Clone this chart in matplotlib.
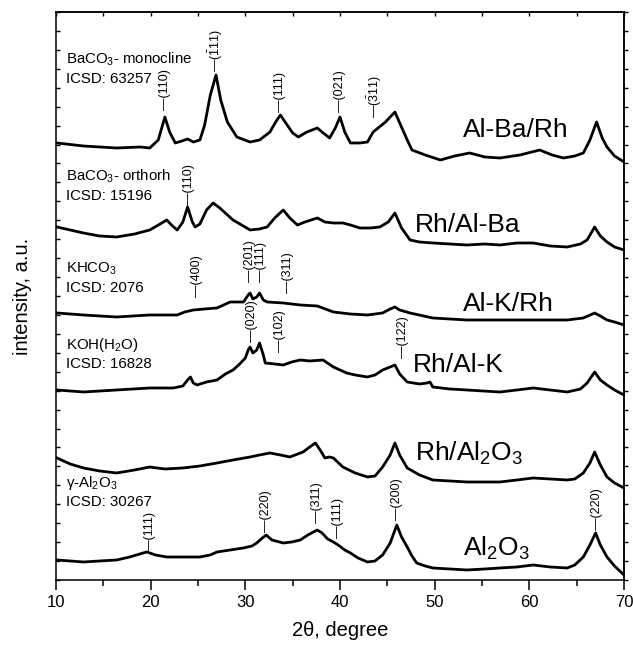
import matplotlib
matplotlib.use('Agg')
import matplotlib.pyplot as plt
from matplotlib.ticker import MultipleLocator

plt.rcParams['font.family'] = ['Liberation Sans', 'DejaVu Sans']
plt.rcParams['mathtext.fontset'] = 'custom'
plt.rcParams['mathtext.rm'] = 'Liberation Sans'
plt.rcParams['mathtext.it'] = 'Liberation Sans:italic'
plt.rcParams['mathtext.bf'] = 'Liberation Sans:bold'
plt.rcParams['mathtext.default'] = 'regular'

# ---------------- data (2theta, intensity a.u. incl. stacking offset) ----------------
albarh_2t = [10.1, 12.9, 16.4, 18.9, 19.9, 20.8, 21.5, 22.0, 22.6, 23.3, 23.9, 24.5, 25.2, 25.7, 26.3,
             26.9, 27.4, 28.1, 29.1, 30.5, 31.5, 32.6, 33.2, 33.7, 34.2, 35.0, 35.6, 36.5, 37.6, 38.1,
             38.9, 39.5, 40.0, 40.5, 41.1, 42.1, 42.9, 43.5, 44.8, 45.8, 46.4, 47.1, 47.6, 49.0, 50.6,
             52.1, 53.7, 55.3, 56.9, 59.0, 61.1, 62.4, 63.6, 64.8, 65.7, 66.4, 67.1, 67.7, 68.2, 69.0, 70.0]
albarh_int = [437, 434, 432, 433, 432, 440, 463, 448, 437, 439, 441, 438, 440, 455, 485,
              505, 480, 458, 443, 438, 440, 448, 458, 465, 458, 447, 443, 448, 452, 448,
              442, 452, 463, 448, 437, 437, 438, 448, 458, 468, 455, 440, 430, 425, 420,
              424, 427, 423, 422, 425, 430, 425, 422, 424, 427, 440, 458, 442, 433, 424, 418]

rhalba_2t = [10.1, 12.9, 14.6, 16.4, 18.3, 19.9, 21.0, 21.7, 22.3, 22.8, 23.4, 23.9, 24.4, 24.7, 25.2,
             25.9, 26.6, 27.3, 28.7, 30.5, 31.5, 32.3, 33.1, 34.0, 34.7, 35.5, 36.3, 37.6, 38.4, 39.3,
             40.3, 41.1, 42.1, 43.2, 44.2, 45.1, 45.8, 46.5, 47.4, 48.4, 49.8, 51.6, 53.4, 55.3, 56.9,
             58.7, 60.4, 62.2, 64.0, 65.4, 66.1, 66.9, 67.5, 68.2, 69.0, 70.0]
rhalba_int = [353, 347, 344, 343, 346, 350, 356, 360, 354, 350, 358, 373, 358, 353, 356,
              370, 377, 372, 360, 350, 351, 353, 362, 370, 362, 355, 358, 362, 358, 357,
              357, 355, 352, 352, 353, 358, 367, 352, 340, 338, 337, 336, 335, 336, 335,
              337, 337, 334, 333, 336, 340, 353, 344, 338, 333, 330]

alkrh_2t = [10.1, 12.9, 16.4, 19.9, 22.8, 23.6, 24.5, 25.7, 27.0, 28.4, 29.8, 30.3, 30.5, 30.8, 31.2,
            31.5, 31.9, 32.3, 34.0, 35.8, 37.6, 39.3, 41.1, 42.9, 44.5, 45.3, 45.8, 46.3, 47.4, 49.8,
            53.4, 56.9, 60.4, 64.0, 65.7, 66.9, 67.5, 68.2, 69.0, 70.0]
alkrh_int = [267, 265, 263, 265, 265, 268, 270, 271, 272, 278, 278, 285, 287, 281, 283,
             287, 280, 278, 277, 275, 274, 268, 266, 265, 267, 271, 273, 270, 267, 262,
             260, 260, 260, 260, 262, 267, 264, 260, 258, 255]

rhalk_2t = [10.1, 12.9, 16.4, 19.9, 22.4, 23.4, 23.9, 24.2, 24.5, 24.9, 25.9, 27.0, 27.9, 28.7, 29.4,
            30.0, 30.3, 30.5, 30.8, 31.2, 31.5, 31.9, 32.1, 33.1, 34.0, 34.9, 35.8, 36.8, 38.2, 39.3,
            40.7, 41.6, 42.9, 43.7, 44.5, 45.3, 45.8, 46.3, 47.1, 48.4, 49.2, 49.5, 49.8, 51.6, 53.4,
            55.1, 56.9, 58.7, 60.4, 62.2, 64.0, 65.4, 66.1, 66.9, 67.5, 68.2, 69.0, 70.0]
rhalk_int = [190, 188, 190, 192, 192, 194, 200, 203, 197, 195, 198, 200, 206, 210, 216,
             222, 230, 233, 227, 230, 237, 225, 217, 216, 215, 218, 220, 219, 220, 213,
             207, 205, 203, 205, 210, 213, 215, 206, 198, 196, 197, 198, 193, 191, 190,
             189, 188, 190, 192, 190, 188, 191, 197, 208, 200, 195, 190, 185]

rhal2o3_2t = [10.1, 11.5, 12.9, 14.6, 16.4, 18.3, 19.9, 21.5, 23.4, 25.2, 27.0, 28.7, 30.5, 31.5, 32.6,
              33.7, 34.7, 36.1, 36.8, 37.4, 37.9, 38.4, 38.9, 39.3, 40.3, 41.6, 42.9, 43.7, 44.5, 45.3,
              45.8, 46.3, 47.1, 48.4, 49.8, 51.6, 53.4, 55.3, 56.9, 58.7, 60.4, 62.2, 64.0, 64.8, 65.7,
              66.4, 66.9, 67.5, 68.2, 69.0, 70.0]
rhal2o3_int = [122, 116, 112, 109, 107, 110, 113, 111, 112, 114, 117, 120, 123, 125, 127,
               125, 123, 128, 133, 137, 130, 122, 123, 122, 113, 107, 103, 104, 113, 125,
               137, 125, 112, 105, 100, 99, 98, 98, 98, 100, 102, 101, 100, 101, 107,
               117, 128, 115, 103, 97, 92]

al2o3_2t = [10.1, 11.5, 12.9, 14.6, 16.4, 17.8, 19.2, 19.6, 20.5, 21.7, 23.6, 25.2, 26.3, 27.0, 28.4,
            29.8, 30.7, 31.2, 31.8, 32.2, 32.8, 34.0, 34.9, 35.8, 36.6, 37.6, 38.1, 38.7, 39.3, 39.8,
            40.5, 41.1, 41.9, 42.9, 43.7, 44.5, 45.3, 46.0, 46.5, 47.1, 47.6, 48.1, 49.0, 49.8, 51.6,
            53.4, 55.3, 56.9, 58.7, 60.4, 62.2, 64.0, 64.8, 65.7, 66.4, 67.0, 67.5, 68.2, 69.0, 70.0]
al2o3_int = [20, 19, 18, 19, 20, 23, 27, 28, 25, 23, 23, 23, 25, 28, 30,
             32, 34, 37, 42, 45, 40, 37, 38, 40, 45, 50, 47, 41, 38, 35,
             30, 27, 22, 18, 19, 25, 37, 55, 43, 33, 24, 17, 14, 12, 11,
             10, 11, 12, 13, 15, 13, 12, 15, 23, 35, 47, 35, 23, 14, 5]

series = [(albarh_2t, albarh_int), (rhalba_2t, rhalba_int), (alkrh_2t, alkrh_int),
          (rhalk_2t, rhalk_int), (rhal2o3_2t, rhal2o3_int), (al2o3_2t, al2o3_int)]

sample_names = ['Al-Ba/Rh', 'Rh/Al-Ba', 'Al-K/Rh', 'Rh/Al-K', 'Rh/Al$_2$O$_3$', 'Al$_2$O$_3$']
sample_name_pos = [(53.0, 450), (47.9, 355), (53.0, 276), (47.7, 215), (47.9, 127), (53.0, 32)]

ref_phase = ['BaCO$_3$- monocline', 'BaCO$_3$- orthorh', 'KHCO$_3$', 'KOH(H$_2$O)', 'γ-Al$_2$O$_3$']
ref_icsd = ['ICSD: 63257', 'ICSD: 15196', 'ICSD: 2076', 'ICSD: 16828', 'ICSD: 30267']
ref_icsd_base = [497, 380, 288, 212, 74]

peak_2t = [21.5, 26.9, 33.7, 40.0, 43.7,
           24.0,
           24.9, 30.5, 31.7, 34.5,
           30.7, 33.7, 46.7,
           19.9, 32.2, 37.6, 39.8, 46.0, 67.1]
peak_hkl = ['(110)', r'$(\bar{1}11)$', '(111)', '(021)', r'$(\bar{3}11)$',
            '(110)',
            '(400)', '(201)', '(111)', '(311)',
            '(020)', '(102)', '(122)',
            '(111)', '(220)', '(311)', '(111)', '(200)', '(220)']
peak_base = [470, 508, 468, 468, 462,
             375,
             283, 298, 298, 287,
             238, 228, 222,
             28, 48, 57, 42, 60, 50]

# ---------------- figure ----------------
fig = plt.figure(figsize=(6.33, 6.45), dpi=100)
ax = fig.add_axes([0.0885, 0.1008, 0.8973, 0.8806])

for x, y in series:
    ax.plot(x, y, color='black', lw=2.0, solid_joinstyle='round')

for name, (px, py) in zip(sample_names, sample_name_pos):
    ax.text(px, py, name, fontsize=19, ha='left', va='center')

for phase, icsd, b in zip(ref_phase, ref_icsd, ref_icsd_base):
    ax.text(11.1, b + 19, phase, fontsize=10.8, ha='left', va='baseline')
    ax.text(11.1, b, icsd, fontsize=10.8, ha='left', va='baseline')

for x, lab, b in zip(peak_2t, peak_hkl, peak_base):
    ax.text(x, b, '—' + lab, fontsize=9, rotation=90, ha='center', va='bottom')

ax.set_xlim(10, 70)
ax.set_ylim(0, 568)
ax.xaxis.set_major_locator(MultipleLocator(10))
ax.xaxis.set_minor_locator(MultipleLocator(5))
ax.yaxis.set_major_locator(MultipleLocator(568 / 30))
ax.set_yticklabels([])
ax.tick_params(axis='x', which='major', direction='out', length=7, width=1.1,
               labelsize=12, top=False)
ax.tick_params(axis='x', which='minor', direction='out', length=4, width=1.1, top=False)
ax.tick_params(axis='y', which='major', direction='in', length=3, width=1.0, left=True, right=False)

sec_x = ax.secondary_xaxis('top')
sec_x.xaxis.set_major_locator(MultipleLocator(10))
sec_x.xaxis.set_minor_locator(MultipleLocator(5))
sec_x.tick_params(axis='x', which='both', direction='in', length=3, width=1.0, labeltop=False)
sec_y = ax.secondary_yaxis('right')
sec_y.yaxis.set_major_locator(MultipleLocator(568 / 30))
sec_y.tick_params(axis='y', direction='out', length=3, width=1.0, labelright=False)
for s in sec_x.spines.values():
    s.set_linewidth(1.1)
for s in sec_y.spines.values():
    s.set_linewidth(1.1)
for s in ax.spines.values():
    s.set_linewidth(1.1)

ax.set_xlabel('2θ, degree', fontsize=14.5, labelpad=8)
ax.set_ylabel('intensity, a.u.', fontsize=14.5, labelpad=14)

fig.savefig('out.png', dpi=100)
